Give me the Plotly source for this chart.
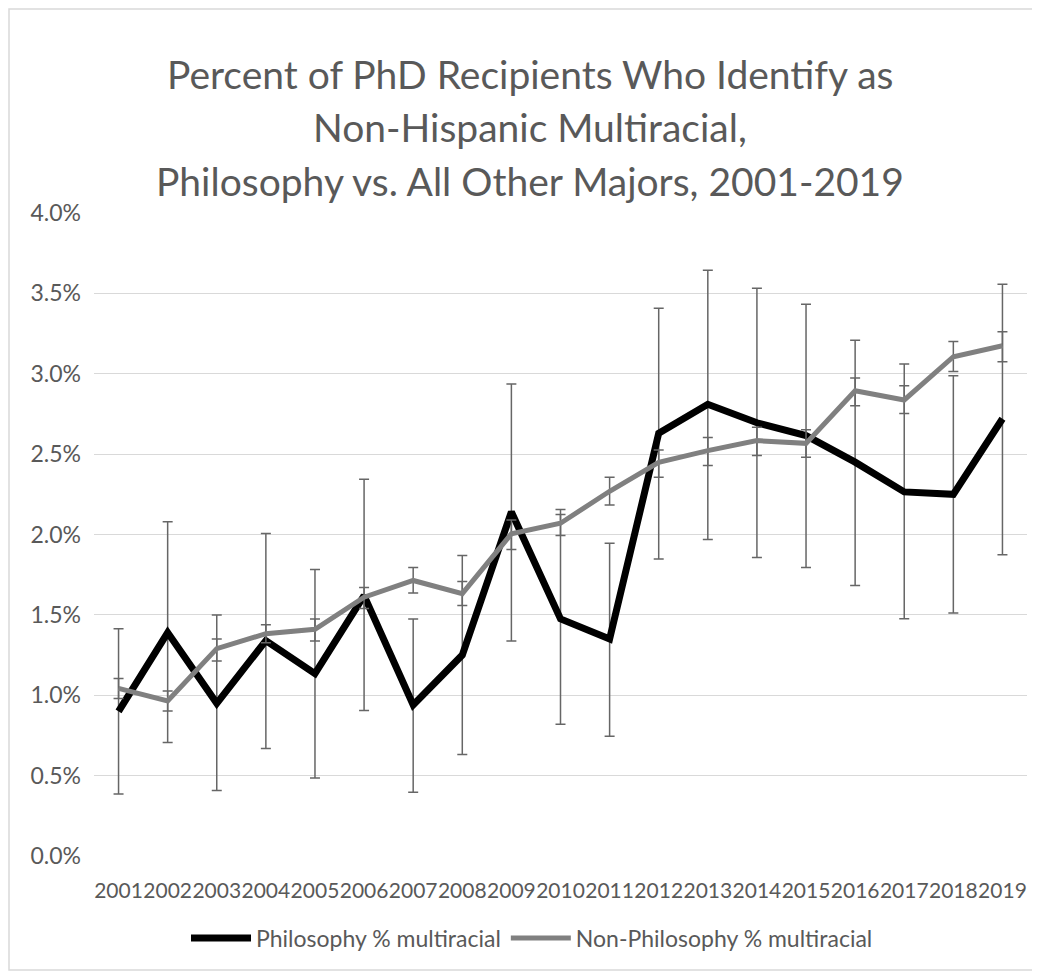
import plotly.graph_objects as go

years = [str(y) for y in range(2001, 2020)]

# Philosophy % multiracial and its error bar ends
phil = [0.90, 1.39, 0.95, 1.34, 1.135, 1.62, 0.94, 1.25, 2.14, 1.475, 1.35, 2.63,
        2.81, 2.695, 2.615, 2.45, 2.265, 2.25, 2.72]
phil_lo = [0.385, 0.706, 0.408, 0.669, 0.485, 0.905, 0.396, 0.632, 1.337, 0.82, 0.745, 1.847,
           1.969, 1.857, 1.795, 1.683, 1.476, 1.511, 1.874]
phil_hi = [1.414, 2.08, 1.499, 2.006, 1.783, 2.344, 1.474, 1.87, 2.936, 2.124, 1.946, 3.408,
           3.644, 3.532, 3.433, 3.209, 3.06, 2.988, 3.557]

# Non-philosophy % multiracial and its error bar ends
nonphil = [1.043, 0.965, 1.29, 1.383, 1.41, 1.61, 1.714, 1.632, 2.004, 2.07, 2.269, 2.449,
           2.522, 2.584, 2.567, 2.894, 2.837, 3.106, 3.174]
nonphil_lo = [0.98, 0.902, 1.213, 1.327, 1.337, 1.54, 1.636, 1.559, 1.907, 1.994, 2.184, 2.356,
              2.429, 2.491, 2.48, 2.801, 2.753, 3.014, 3.075]
nonphil_hi = [1.104, 1.027, 1.35, 1.439, 1.474, 1.671, 1.795, 1.708, 2.09, 2.155, 2.356, 2.526,
              2.604, 2.667, 2.652, 2.973, 2.925, 3.2, 3.261]

title_lines = ["Percent of PhD Recipients Who Identify as",
               "Non-Hispanic Multiracial,",
               "Philosophy vs. All Other Majors, 2001-2019"]

FONT = "Lato, Open Sans, sans-serif"
TXT = "#595959"

# page has an 8px body margin, so lay out in figure pixels = screen pixels - 8
OFF = 8
L, T, W, H = 94 - OFF, 213 - OFF, 933, 643

def px(x):
    return (x - OFF - L) / W

def py(y):
    return (T + H - (y - OFF)) / H

def err(vals, lo, hi):
    return dict(type="data", symmetric=False,
                array=[h - v for v, h in zip(vals, hi)],
                arrayminus=[v - l for v, l in zip(vals, lo)],
                color="#666666", thickness=1.5, width=5)

fig = go.Figure()

fig.add_trace(go.Scatter(x=years, y=phil, mode="lines", name="Philosophy % multiracial",
                         line=dict(color="black", width=7),
                         error_y=err(phil, phil_lo, phil_hi)))
fig.add_trace(go.Scatter(x=years, y=nonphil, mode="lines", name="Non-Philosophy % multiracial",
                         line=dict(color="#808080", width=5),
                         error_y=err(nonphil, nonphil_lo, nonphil_hi)))

for t, ty in zip(title_lines, [74, 127, 181]):
    fig.add_annotation(text=t, xref="paper", yref="paper",
                       x=px(530), y=py(ty),
                       xanchor="center", yanchor="middle", showarrow=False,
                       font=dict(family=FONT, size=39, color=TXT))

# light chart-area border
fig.add_shape(type="rect", xref="paper", yref="paper",
              x0=px(9), x1=px(1036), y0=py(970), y1=py(9),
              line=dict(color="#d9d9d9", width=1.5), layer="below")

fig.update_layout(
    width=1040, height=975,
    margin=dict(l=L, r=1040 - L - W, t=T, b=975 - T - H, autoexpand=False),
    paper_bgcolor="white", plot_bgcolor="white",
    font=dict(family=FONT, size=23, color=TXT),
    showlegend=True,
    legend=dict(orientation="h", x=px(532), xanchor="center",
                y=py(938), yanchor="middle",
                font=dict(size=23, color=TXT), itemwidth=60),
    xaxis=dict(type="category", range=[-0.5, len(years) - 0.5],
               showgrid=False, showline=False, ticks="",
               tickangle=0, ticklabelstandoff=20, zeroline=False, automargin=False,
               tickfont=dict(size=21)),
    yaxis=dict(range=[0, 4], dtick=0.5, tickformat=".1f", ticksuffix="%",
               showgrid=True, gridcolor="#d9d9d9", gridwidth=1.3, automargin=False,
               zeroline=False, showline=False, ticks="", ticklabelstandoff=12),
)

fig.write_html("out.html")
